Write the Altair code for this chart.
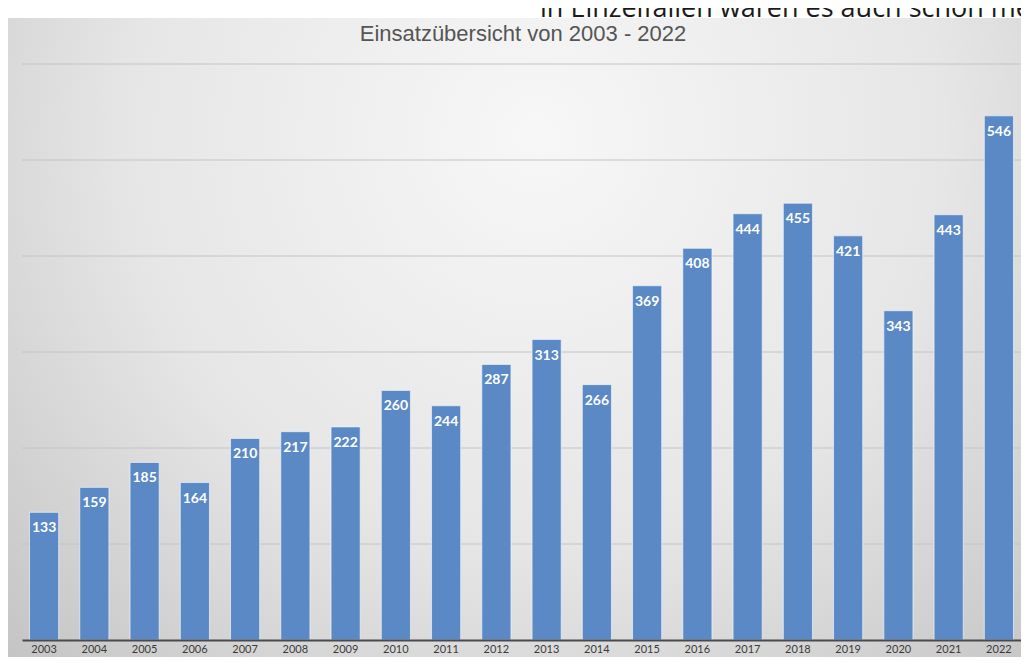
import altair as alt
import pandas as pd

years = [str(y) for y in range(2003, 2023)]
counts = [133, 159, 185, 164, 210, 217, 222, 260, 244, 287,
          313, 266, 369, 408, 444, 455, 421, 343, 443, 546]
grid_values = [100, 200, 300, 400, 500, 600]
title_text = "Einsatzübersicht von 2003 - 2022"
caption_text = "in Einzelfällen waren es auch schon mehr"

df = pd.DataFrame({"Jahr": years, "Einsätze": counts})
grid_df = pd.DataFrame({"v": grid_values})
one = pd.DataFrame({"a": [0]})

W, H = 999, 576

bg = alt.Chart(one).mark_rect(
    color=alt.RadialGradient(
        gradient="radial",
        stops=[
            alt.GradientStop(offset=0, color="#f7f7f7"),
            alt.GradientStop(offset=0.5, color="#e6e6e6"),
            alt.GradientStop(offset=1, color="#bdbdbd"),
        ],
        x1=0.52, y1=0.3, x2=0.52, y2=0.3, r1=0, r2=0.8,
    )
).encode(x=alt.value(-15), x2=alt.value(1005), y=alt.value(-46), y2=alt.value(600))

grid = alt.Chart(grid_df).mark_rule(color="#c4c4c4", strokeWidth=1).encode(
    x=alt.value(0), x2=alt.value(W),
    y=alt.Y("v:Q", scale=alt.Scale(domain=[0, 600]), axis=None),
)

xenc = alt.X(
    "Jahr:N",
    sort=years,
    scale=alt.Scale(paddingInner=0.42, paddingOuter=0.15),
    axis=alt.Axis(
        labelAngle=0, ticks=False, domainColor="#4a4a4a", domainWidth=2,
        labelFont="Lato", labelFontSize=11, labelColor="#3a3a3a",
        labelPadding=3, title=None, zindex=1,
    ),
)
yenc = alt.Y("Einsätze:Q", scale=alt.Scale(domain=[0, 600]), axis=None)

bars = alt.Chart(df).mark_bar(
    color="#5a89c5", stroke="#eef3fa", strokeWidth=1, strokeOpacity=0.7
).encode(x=xenc, y=yenc)

labels = alt.Chart(df).mark_text(
    color="white", fontWeight="bold", fontSize=14, font="Lato",
    baseline="top", dy=9,
).encode(x=xenc, y=yenc, text="Einsätze:Q")

title = alt.Chart(one).mark_text(
    text=title_text, fontSize=22, font="Liberation Sans", color="#555555",
    align="center", baseline="alphabetic",
).encode(x=alt.value(501), y=alt.value(-23))

caption = alt.Chart(one).mark_text(
    text=caption_text, fontSize=27, font="Open Sans", color="#1a1a1a",
    align="left", baseline="alphabetic",
).encode(x=alt.value(518), y=alt.value(-47))

chart = alt.layer(bg, grid, bars, labels, title, caption).properties(
    width=W, height=H,
    padding={"left": 14, "top": 56, "right": 0, "bottom": 17},
    autosize=alt.AutoSizeParams(type="none"),
).configure_view(stroke=None)

chart.save("out.html", embed_options={"renderer": "svg", "actions": False})
